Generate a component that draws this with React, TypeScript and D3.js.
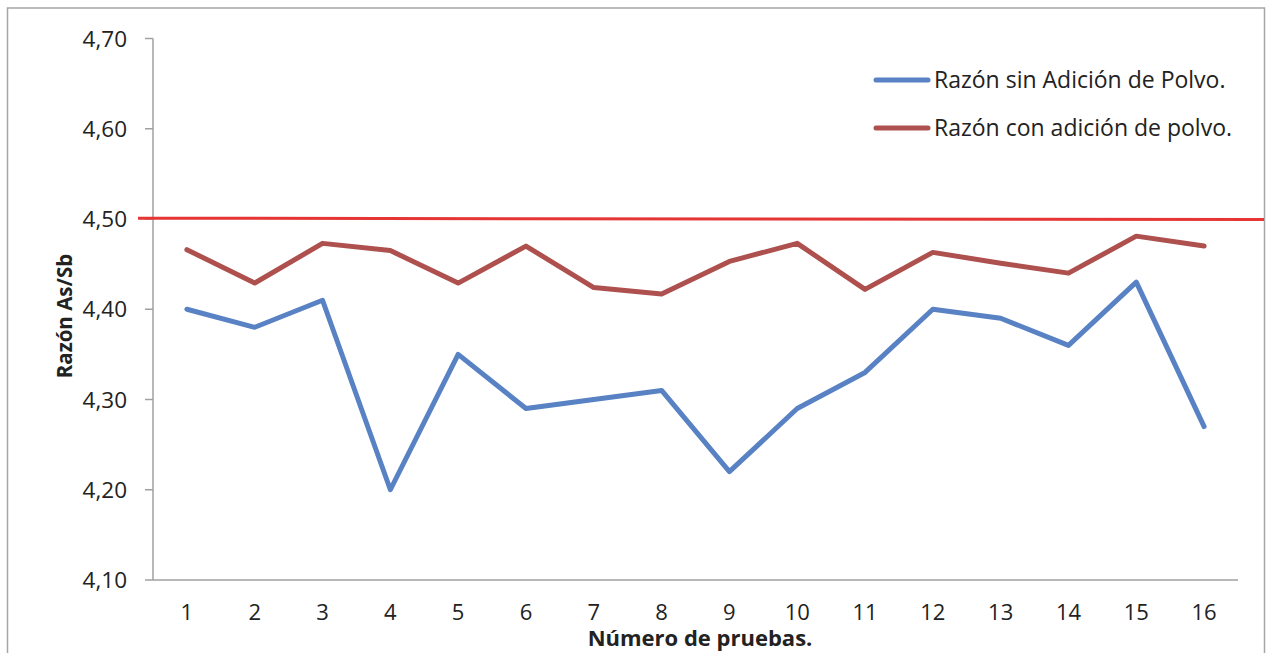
import React from "react";
import * as d3 from "d3";

// Prueba numbers along the x axis
const pruebas = ["1", "2", "3", "4", "5", "6", "7", "8", "9", "10", "11", "12", "13", "14", "15", "16"];
// As/Sb ratio without added dust
const sinPolvo = [4.40, 4.38, 4.41, 4.20, 4.35, 4.29, 4.30, 4.31, 4.22, 4.29, 4.33, 4.40, 4.39, 4.36, 4.43, 4.27];
// As/Sb ratio with added dust
const conPolvo = [4.466, 4.429, 4.473, 4.465, 4.429, 4.470, 4.424, 4.417, 4.453, 4.473, 4.422, 4.463, 4.451, 4.440, 4.481, 4.470];
// y axis ticks
const yTicks = [4.1, 4.2, 4.3, 4.4, 4.5, 4.6, 4.7];
const limite = 4.5;

const seriesNames = ["Razón sin Adición de Polvo.", "Razón con adición de polvo."];
const seriesColors = ["#5882C3", "#AD504E"];

const W = 1271;
const H = 653;
const plot = { left: 153, right: 1238, top: 38.5, bottom: 580 };
const font = "'Open Sans', sans-serif";

export default function App() {
  const x = d3.scaleBand<string>().domain(pruebas).range([plot.left, plot.right]);
  const y = d3.scaleLinear().domain([4.1, 4.7]).range([plot.bottom, plot.top]);
  const cx = (d: string) => (x(d) as number) + x.bandwidth() / 2;
  const line = d3
    .line<number>()
    .x((_, i) => cx(pruebas[i]))
    .y((v) => y(v));
  const fmt = (v: number) => v.toFixed(2).replace(".", ",");

  return (
    <svg
      width={W}
      height={H}
      style={{ position: "absolute", left: 0, top: 0, background: "#fff" }}
      fontFamily={font}
    >
      {/* outer chart frame (open at bottom) */}
      <path d={`M7.5,${H + 5}V8H1264.5V${H + 5}`} fill="none" stroke="#a6a6a6" strokeWidth={1.5} />

      {/* axes */}
      <line x1={plot.left} x2={plot.left} y1={plot.top} y2={plot.bottom} stroke="#a0a0a0" strokeWidth={1.5} />
      <line x1={plot.left} x2={plot.right} y1={plot.bottom} y2={plot.bottom} stroke="#a0a0a0" strokeWidth={1.5} />
      {yTicks.map((t) => (
        <g key={t}>
          <line x1={plot.left - 8} x2={plot.left} y1={y(t)} y2={y(t)} stroke="#a0a0a0" strokeWidth={1.5} />
          <text x={127} y={y(t)} dy="0.36em" textAnchor="end" fontSize={22.5} fill="#222">
            {fmt(t)}
          </text>
        </g>
      ))}
      {pruebas.map((p) => (
        <text key={p} x={cx(p)} y={620} textAnchor="middle" fontSize={22} fill="#222">
          {p}
        </text>
      ))}

      {/* axis titles */}
      <text x={700} y={646} textAnchor="middle" fontSize={22} fontWeight="bold" fill="#222">
        Número de pruebas.
      </text>
      <text
        transform={`translate(72,316) rotate(-90)`}
        textAnchor="middle"
        fontSize={20.5}
        fontWeight="bold"
        fill="#222"
      >
        Razón As/Sb
      </text>

      {/* limit line */}
      <line x1={138} x2={1264} y1={y(limite) - 0.8} y2={y(limite) + 0.6} stroke="#E53535" strokeWidth={3} />

      {/* series */}
      {[sinPolvo, conPolvo].map((s, i) => (
        <path
          key={i}
          d={line(s) as string}
          fill="none"
          stroke={seriesColors[i]}
          strokeWidth={5}
          strokeLinejoin="round"
          strokeLinecap="round"
        />
      ))}

      {/* legend */}
      {seriesNames.map((n, i) => (
        <g key={n} transform={`translate(0,${80 + i * 48})`}>
          <line x1={876} x2={928} y1={0} y2={0} stroke={seriesColors[i]} strokeWidth={5} strokeLinecap="round" />
          <text x={934} y={0} dy="0.36em" fontSize={23} fill="#222">
            {n}
          </text>
        </g>
      ))}
    </svg>
  );
}
